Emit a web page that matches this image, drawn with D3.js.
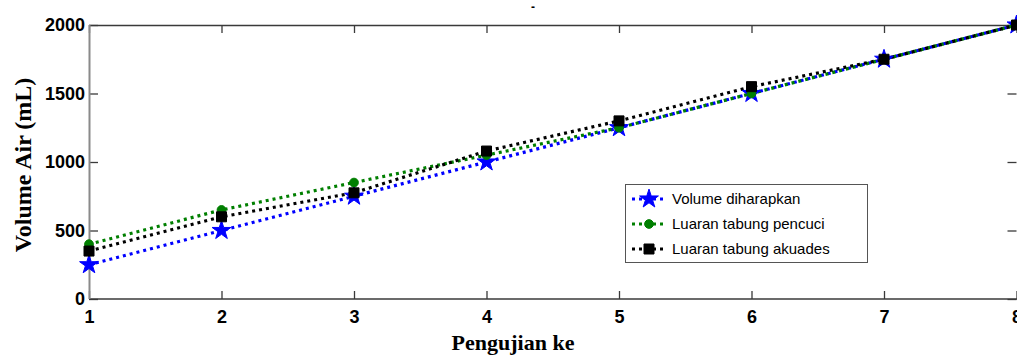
<!DOCTYPE html>
<html>
<head>
<meta charset="utf-8">
<script src="https://cdn.jsdelivr.net/npm/d3@7"></script>
<style>
  body { margin: 0; background: #fff; }
  .tick text { font-family: "Liberation Sans", Arial, sans-serif; font-weight: bold; font-size: 18px; fill: #000; }
  .axisLabel { font-family: "Liberation Serif", "Times New Roman", serif; font-weight: bold; fill: #000; }
  .legend text { font-family: "Liberation Sans", Arial, sans-serif; font-size: 15px; fill: #000; }
</style>
</head>
<body>
<div id="chart"></div>
<script>
// chart data
const trials = [1, 2, 3, 4, 5, 6, 7, 8];
const expected = [250, 500, 750, 1000, 1250, 1500, 1750, 2000];
const washTube = [400, 650, 850, 1050, 1250, 1500, 1750, 2000];
const aquadesTube = [350, 600, 775, 1080, 1300, 1550, 1750, 2000];
const yTicks = [0, 500, 1000, 1500, 2000];
const seriesNames = ["Volume diharapkan", "Luaran tabung pencuci", "Luaran tabung akuades"];

const W = 1017, H = 356;
const margin = {top: 25, right: 0, bottom: 57, left: 89};
const width = W - margin.left - margin.right;
const height = H - margin.top - margin.bottom;

const svg = d3.select("#chart").append("svg")
    .attr("width", W)
    .attr("height", H);

const g = svg.append("g")
    .attr("transform", "translate(" + margin.left + "," + margin.top + ")");

// scales
const x = d3.scaleLinear().domain([1, 8]).range([0, width - 0.5]);
const y = d3.scaleLinear().domain([0, 2000]).range([height, 0]);

// tiny title
svg.append("text")
    .attr("x", 533).attr("y", 11)
    .attr("text-anchor", "middle")
    .style("font-family", "Liberation Sans, Arial, sans-serif")
    .style("font-size", "12px")
    .style("font-weight", "bold")
    .style("fill", "#000")
    .text("-");

// axes with inward ticks
const axisColor = "#3a3a3a";
const xAxis = g.append("g")
    .attr("class", "axis axis--x")
    .attr("transform", "translate(0," + height + ")")
    .call(d3.axisBottom(x).tickValues(trials).tickSize(-8).tickPadding(11).tickFormat(d3.format("d")));
const yAxis = g.append("g")
    .attr("class", "axis axis--y")
    .call(d3.axisLeft(y).tickValues(yTicks).tickSize(-9).tickPadding(4).tickFormat(d3.format("d")));
const xTop = g.append("g")
    .call(d3.axisTop(x).tickValues(trials).tickSize(-8).tickFormat(""));
const yRight = g.append("g")
    .attr("transform", "translate(" + (width - 0.5) + ",0)")
    .call(d3.axisRight(y).tickValues(yTicks).tickSize(-9).tickFormat(""));

[xAxis, yAxis, xTop, yRight].forEach(a => {
    a.select(".domain").remove();
    a.selectAll(".tick line").attr("stroke", axisColor).attr("stroke-width", 1.3);
});
xAxis.selectAll(".tick text").attr("dy", "0.71em");

// frame
g.append("line").attr("x1", 0).attr("x2", width).attr("y1", 0.5).attr("y2", 0.5)
    .attr("stroke", axisColor).attr("stroke-width", 1.5);
g.append("line").attr("x1", 0).attr("x2", width).attr("y1", height).attr("y2", height)
    .attr("stroke", axisColor).attr("stroke-width", 1.5);
g.append("line").attr("x1", 0.5).attr("x2", 0.5).attr("y1", 0).attr("y2", height)
    .attr("stroke", "#8a8a8a").attr("stroke-width", 2);

// axis labels
svg.append("text")
    .attr("class", "axisLabel")
    .attr("x", 513).attr("y", 350)
    .attr("text-anchor", "middle")
    .style("font-size", "22px")
    .text("Pengujian ke");

svg.append("text")
    .attr("class", "axisLabel")
    .attr("transform", "translate(31,165) rotate(-90)")
    .attr("text-anchor", "middle")
    .style("font-size", "24px")
    .text("Volume Air (mL)");

// series
const series = [
    {name: seriesNames[0], values: expected, color: "#0000ff", marker: "star"},
    {name: seriesNames[1], values: washTube, color: "#007f00", marker: "circle"},
    {name: seriesNames[2], values: aquadesTube, color: "#000000", marker: "square"}
];

const line = d3.line()
    .x((d, i) => x(trials[i]))
    .y(d => y(d));

const symbolFor = {
    star: d3.symbol().type(d3.symbolStar).size(110),
    circle: d3.symbol().type(d3.symbolCircle).size(60),
    square: d3.symbol().type(d3.symbolSquare).size(100)
};

const plot = g.append("g").attr("class", "pathGroup");

series.forEach(s => {
    plot.append("path")
        .datum(s.values)
        .attr("d", line)
        .attr("fill", "none")
        .attr("stroke", s.color)
        .attr("stroke-width", 3.2)
        .attr("stroke-dasharray", "3,4");
});

series.forEach(s => {
    plot.selectAll(".m-" + s.marker)
        .data(s.values)
        .enter().append("path")
        .attr("class", "m-" + s.marker)
        .attr("transform", (d, i) => "translate(" + x(trials[i]) + "," + y(d) + ")")
        .attr("d", symbolFor[s.marker]())
        .attr("fill", s.color)
        .attr("stroke", s.color)
        .attr("stroke-width", 1);
});

// legend
const legend = svg.append("g").attr("class", "legend");
legend.append("rect")
    .attr("x", 625.5).attr("y", 184.5)
    .attr("width", 242).attr("height", 78)
    .attr("fill", "#fff")
    .attr("stroke", "#555")
    .attr("stroke-width", 1);

series.forEach((s, i) => {
    const ly = 199 + i * 25;
    legend.append("line")
        .attr("x1", 632).attr("x2", 666)
        .attr("y1", ly).attr("y2", ly)
        .attr("stroke", s.color)
        .attr("stroke-width", 3)
        .attr("stroke-dasharray", "3,4");
    legend.append("path")
        .attr("transform", "translate(649," + ly + ")")
        .attr("d", symbolFor[s.marker]())
        .attr("fill", s.color)
        .attr("stroke", s.color);
    legend.append("text")
        .attr("x", 672).attr("y", ly + 5)
        .text(s.name);
});
</script>
</body>
</html>
